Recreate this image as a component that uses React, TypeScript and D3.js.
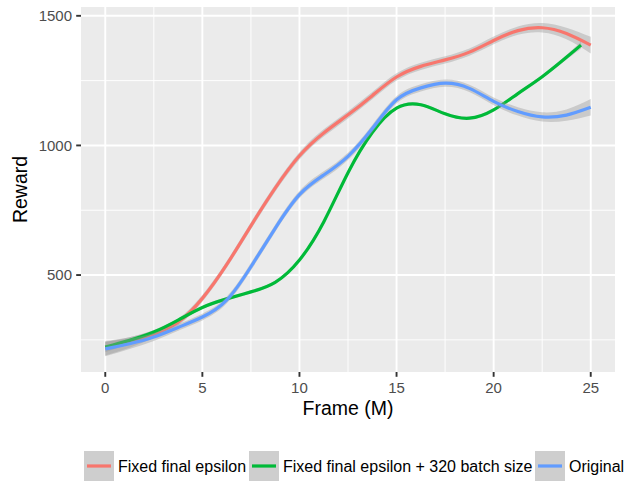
import React from "react";
import * as d3 from "d3";

// frame in millions, smoothed reward
const frames = [0, 1.25, 2.5, 3.75, 5, 6.25, 7.5, 8.75, 10, 11.25, 12.5, 13.75, 15, 16.25, 17.5, 18.75, 20, 21.25, 22.5, 23.75, 25];
const batchFrames = [0, 1.25, 2.5, 3.75, 5, 6.25, 7.5, 8.75, 10, 11.25, 12.5, 13.75, 15, 16.25, 17.5, 18.75, 20, 21.25, 22.5, 23.75, 24.5];

const fixedReward = [218, 240, 272, 318, 410, 540, 690, 835, 960, 1048, 1118, 1192, 1264, 1305, 1330, 1360, 1405, 1443, 1454, 1432, 1387];
const fixedSe = [28, 20, 15, 13, 13, 13, 14, 14, 14, 14, 14, 14, 14, 14, 14, 14, 15, 16, 18, 22, 32];

const batchReward = [222, 248, 280, 326, 375, 408, 435, 472, 558, 705, 895, 1050, 1144, 1157, 1122, 1105, 1137, 1200, 1265, 1340, 1387];
const batchSe = [20, 12, 8, 6, 6, 6, 6, 6, 6, 6, 6, 6, 6, 6, 6, 6, 6, 6, 7, 9, 14];

const originalReward = [215, 235, 261, 298, 338, 403, 532, 680, 810, 886, 958, 1065, 1176, 1222, 1240, 1220, 1170, 1131, 1110, 1117, 1147];
const originalSe = [28, 20, 15, 13, 13, 13, 14, 14, 14, 14, 14, 14, 14, 14, 14, 14, 15, 16, 18, 22, 32];

const seriesNames = ["Fixed final epsilon", "Fixed final epsilon + 320 batch size", "Original"];
const seriesColors = ["#F8766D", "#00BA38", "#619CFF"];

const xTicks = [0, 5, 10, 15, 20, 25];
const xMinor = [2.5, 7.5, 12.5, 17.5, 22.5];
const yTicks = [500, 1000, 1500];
const yMinor = [250, 750, 1250];

const FONT = "'Liberation Sans', Arial, Helvetica, sans-serif";

const W = 624;
const H = 481;
const panel = { left: 81, right: 615, top: 7, bottom: 372 };

// left edge of each legend key
const legendKeyX = [84, 249, 535];

export default function App() {
  const x = d3.scaleLinear().domain([-1.25, 26.25]).range([panel.left, panel.right]);
  const y = d3.scaleLinear().domain([126, 1534]).range([panel.bottom, panel.top]);

  const groups = [
    { xs: frames, ys: fixedReward, se: fixedSe },
    { xs: batchFrames, ys: batchReward, se: batchSe },
    { xs: frames, ys: originalReward, se: originalSe },
  ].map((g, i) => {
    const pts = g.xs.map((f, j) => ({ f, v: g.ys[j], s: g.se[j] }));
    return { pts, color: seriesColors[i], name: seriesNames[i] };
  });

  const line = d3
    .line<{ f: number; v: number }>()
    .x((d) => x(d.f))
    .y((d) => y(d.v))
    .curve(d3.curveNatural);

  const band = d3
    .area<{ f: number; v: number; s: number }>()
    .x((d) => x(d.f))
    .y0((d) => y(d.v - d.s))
    .y1((d) => y(d.v + d.s))
    .curve(d3.curveNatural);

  const keyW = 30;

  return (
    <svg
      width={W}
      height={H}
      style={{ position: "absolute", left: 0, top: 0, background: "#fff" }}
      fontFamily={FONT}
    >
      <defs>
        <clipPath id="panel-clip">
          <rect x={panel.left} y={panel.top} width={panel.right - panel.left} height={panel.bottom - panel.top} />
        </clipPath>
      </defs>
      <rect x={panel.left} y={panel.top} width={panel.right - panel.left} height={panel.bottom - panel.top} fill="#ebebeb" />
      {yMinor.map((t) => (
        <line key={"ym" + t} x1={panel.left} x2={panel.right} y1={y(t)} y2={y(t)} stroke="#fff" strokeWidth={0.95} />
      ))}
      {xMinor.map((t) => (
        <line key={"xm" + t} y1={panel.top} y2={panel.bottom} x1={x(t)} x2={x(t)} stroke="#fff" strokeWidth={0.95} />
      ))}
      {yTicks.map((t) => (
        <line key={"y" + t} x1={panel.left} x2={panel.right} y1={y(t)} y2={y(t)} stroke="#fff" strokeWidth={1.9} />
      ))}
      {xTicks.map((t) => (
        <line key={"x" + t} y1={panel.top} y2={panel.bottom} x1={x(t)} x2={x(t)} stroke="#fff" strokeWidth={1.9} />
      ))}

      <g clipPath="url(#panel-clip)">
        {groups.map((g) => (
          <g key={g.name}>
            <path d={band(g.pts) || ""} fill="#999999" fillOpacity={0.4} />
            <path d={line(g.pts) || ""} fill="none" stroke={g.color} strokeWidth={3.2} />
          </g>
        ))}
      </g>

      {/* x axis */}
      {xTicks.map((t) => (
        <g key={"xt" + t}>
          <line x1={x(t)} x2={x(t)} y1={panel.bottom} y2={panel.bottom + 4.8} stroke="#333" strokeWidth={1.9} />
          <text x={x(t)} y={392.5} textAnchor="middle" fontSize={15} fill="#4d4d4d">
            {t}
          </text>
        </g>
      ))}
      <text x={(panel.left + panel.right) / 2} y={415} textAnchor="middle" fontSize={19.5} fill="#000">
        Frame (M)
      </text>

      {/* y axis */}
      {yTicks.map((t) => (
        <g key={"yt" + t}>
          <line x1={panel.left - 4.8} x2={panel.left} y1={y(t)} y2={y(t)} stroke="#333" strokeWidth={1.9} />
          <text x={72} y={y(t)} dy="0.36em" textAnchor="end" fontSize={15} fill="#4d4d4d">
            {t}
          </text>
        </g>
      ))}
      <text
        transform={`translate(27,${(panel.top + panel.bottom) / 2}) rotate(-90)`}
        textAnchor="middle"
        fontSize={19.5}
        fill="#000"
      >
        Reward
      </text>

      {/* legend */}
      {seriesNames.map((n, i) => (
        <g key={n} transform={`translate(${legendKeyX[i]},451)`}>
          <rect width={keyW} height={keyW} fill="#f2f2f2" />
          <rect width={keyW} height={keyW} fill="#999999" fillOpacity={0.4} />
          <line x1={3} x2={keyW - 3} y1={15} y2={15} stroke={seriesColors[i]} strokeWidth={3.2} />
          <text x={keyW + 4} y={21} fontSize={16} fill="#000">
            {n}
          </text>
        </g>
      ))}
    </svg>
  );
}
